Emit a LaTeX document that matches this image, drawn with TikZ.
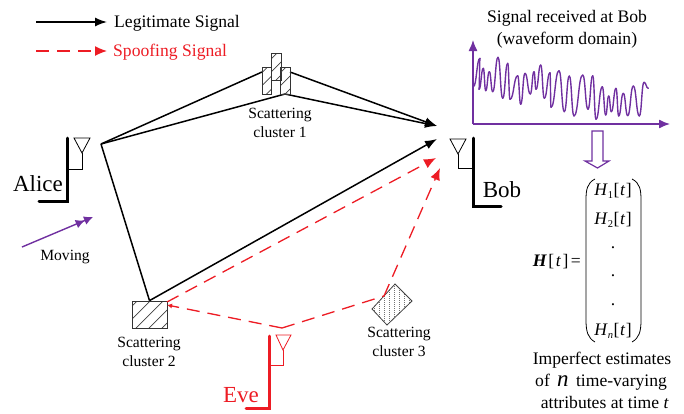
\documentclass[tikz,border=0pt]{standalone}
\usepackage{fontspec}
\setmainfont{Liberation Serif}
\usetikzlibrary{arrows.meta}
\definecolor{pur}{HTML}{7030A0}
\definecolor{spoof}{HTML}{ED1C24}
\newcommand{\fsz}[1]{\fontsize{#1}{#1}\selectfont}
\newcommand{\Hs}[1]{\textit{H}\raisebox{-3pt}{\fsz{10.5}#1}\kern0.5pt[\kern0.5pt\textit{t}\kern0.5pt]}
\tikzset{
  legit/.style={black,line width=1.5pt,-{Latex[length=12pt,width=9pt]}},
  legitplain/.style={black,line width=1.5pt},
  spoofline/.style={spoof,line width=1.3pt,dash pattern=on 13pt off 8pt},
  spoofarrow/.style={spoofline,-{Latex[length=12pt,width=10pt]}},
  spoofsmall/.style={spoofline,-{Latex[length=5pt,width=5pt]}},
  mast/.style={line width=3pt,line cap=round},
  feed/.style={line width=0.8pt},
  lab/.style={anchor=base,inner sep=0pt},
  big/.style={lab,font=\fsz{23}},
  mid/.style={lab,font=\fsz{17.6}},
  small/.style={lab,font=\fsz{15.6}},
  hatchbox/.style={draw=black!60!gray,line width=0.8pt,inner sep=0pt,path picture={
    \foreach \d in {-65,-52,...,65}
      \draw[black!75,line width=0.7pt] ([xshift=\d pt]path picture bounding box.center)++(-30pt,-30pt)--++(60pt,60pt);}},
  purplearrow/.style={pur,line width=1.3pt,-{Latex[length=11pt,width=9pt]}},
  wave/.style={pur,line width=1.4pt,line cap=round}
}
\begin{document}
\begin{tikzpicture}[x=1pt,y=-1pt]
\useasboundingbox (0,0) rectangle (684,413);
% named points
\coordinate (aliceTip) at (101,144);
\coordinate (bobA) at (437,126);
\coordinate (bobB) at (437,139);
\coordinate (bobC) at (436,158);
\coordinate (bobD) at (440,168);
\coordinate (c1L) at (262,72);
\coordinate (c1R) at (290,72);
\coordinate (c1B) at (285,94);
\coordinate (eveTip) at (282,328);
\coordinate (c3in) at (384,296);
\coordinate (c2E1) at (167,305);
\coordinate (c2E2) at (167,302);
% legend
\coordinate (lg1) at (36,22); \coordinate (lg2) at (107,22);
\coordinate (ls1) at (36,51); \coordinate (ls2) at (107,51);
\draw[legit] (lg1) -- (lg2);
\draw[spoofarrow] (ls1) -- (ls2);
\node[mid,anchor=base west] (tlegit) at (114,27) {Legitimate Signal};
\node[mid,anchor=base west,text=spoof] (tspoof) at (113,56) {Spoofing Signal};
% black links (below the clusters)
\node[hatchbox,minimum width=35pt,minimum height=27pt] (c2) at (149.5,314.5) {};
\draw[legitplain] (aliceTip) -- (c1L);
\draw[legitplain] (aliceTip) -- (c1B);
\draw[legit] (c1R) -- (bobA);
\draw[legit] (c1B) -- (bobA);
\draw[legitplain] (aliceTip) -- (c2.north);
\draw[legit] (c2.north) -- (bobB);
% cluster 1
\node[hatchbox,minimum width=9.5pt,minimum height=27pt] (c1m) at (276.5,66.5) {};
\node[hatchbox,minimum width=9.5pt,minimum height=27pt] (c1a) at (267,80.5) {};
\node[hatchbox,minimum width=9.5pt,minimum height=27pt] (c1c) at (285.5,80.5) {};
\node[small] (t1a) at (280,118) {Scattering};
\node[small] (t1b) at (280,137) {cluster 1};
% cluster 2 text
\node[small] (t2a) at (149,347) {Scattering};
\node[small] (t2b) at (149,366) {cluster 2};
% cluster 3
\coordinate (d1) at (395,284); \coordinate (d2) at (412,301);
\coordinate (d3) at (387,325); \coordinate (d4) at (372,309);
\begin{scope}
\clip (d1)--(d2)--(d3)--(d4)--cycle;
\foreach \x in {374,379,...,412}
  \draw[black!55,line width=1pt,dash pattern=on 1pt off 1pt] (\x,280)--(\x,330);
\end{scope}
\draw[black!75,line width=0.8pt] (d1)--(d2)--(d3)--(d4)--cycle;
\node[small] (t3a) at (399,337) {Scattering};
\node[small] (t3b) at (399,356) {cluster 3};
% red links
\draw[spoofsmall] (eveTip) -- (c2E1);
\draw[spoofarrow] (c2E2) -- (bobC);
\draw[spoofline] (eveTip) -- (c3in);
\draw[spoofarrow] (c3in) -- (bobD);
% Alice
\draw[mast] (67,138) -- (67,201) -- (39,201);
\draw[feed] (68,169) -- (82,169) -- (82,153);
\draw[feed,fill=white] (74,138) -- (90,138) -- (82,153) -- cycle;
\node[big] (alice) at (38,191) {Alice};
% Bob
\draw[mast] (473,138) -- (473,206) -- (501,206);
\draw[feed] (472,168) -- (458,168) -- (458,154);
\draw[feed,fill=white] (450,139) -- (466,139) -- (458,154) -- cycle;
\node[big] (bob) at (502,197) {Bob};
% Eve
\draw[spoof,mast] (269,336) -- (269,408) -- (246,408);
\draw[spoof,feed] (269,365) -- (283,365) -- (283,350);
\draw[spoof,feed,fill=white] (276,335) -- (291,335) -- (283,350) -- cycle;
\node[big,text=spoof] (eve) at (241,402) {Eve};
% moving
\coordinate (mv1) at (22,247); \coordinate (mv2) at (93,217);
\draw[pur,line width=1.4pt,-{Latex[length=9pt,width=9pt]Latex[length=9pt,width=9pt]}] (mv1) -- (mv2);
\node[small] (tmove) at (65,260) {Moving};
% plot
\node[mid] (tsig) at (567,22) {Signal received at Bob};
\node[mid] (tdom) at (567,44) {(waveform domain)};
\coordinate (ax0) at (473,124); \coordinate (axy) at (473,40); \coordinate (axx) at (670,124);
\draw[purplearrow] (ax0) -- (axy);
\draw[purplearrow] (ax0) -- (axx);
\foreach \x/\y [remember=\x as \lx (initially 473.3), remember=\y as \ly (initially 86.7)] in {480/58.3,479/89.3,483.3/68.3,485.7/90.7,489.3/71.7,492.7/91.7,498/57.3,502.7/98.3,507.7/63.3,510/99.3,517.7/75.7,520.7/104.3,525/73.3,530.3/94,534/71.7,536/89.3,540.7/65,544.3/98.3,550/72.7,551/107.3,559/70.7,564.3/111.7,569.3/76,574/116,582.7/75,588/109.3,592.7/75.7,596/119.3,602.3/86.7,605.7/115,608.7/96,611.3/111.7,616/88.3,618.7/116,623.3/93.3,627.7/115.7,633.3/86,639.3/116,644/82.3,648.3/88.3}
  \draw[wave] (\lx,\ly) .. controls ({(\lx+\x)/2},\ly) and ({(\lx+\x)/2},\y) .. (\x,\y);
% hollow arrow
\draw[pur,line width=1.2pt,fill=white] (592,131)--(603,131)--(603,161)--(609,161)--(597.5,168)--(585,161)--(592,161)--cycle;
% matrix
\draw[black,line width=0.8pt] (595,179) .. controls (587,183) and (586,190) .. (586,200) -- (586,320) .. controls (586,332) and (588,338) .. (595,342);
\draw[black,line width=0.8pt] (632,179) .. controls (640,183) and (641,190) .. (641,200) -- (641,320) .. controls (641,332) and (639,338) .. (632,342);
\node[mid] (h1) at (613,195) {\Hs{1}};
\node[mid] (h2) at (613,224) {\Hs{2}};
\node[mid] (dt1) at (613,248) {.};
\node[mid] (dt2) at (613,276) {.};
\node[mid] (dt3) at (613,305) {.};
\node[mid] (hn) at (613,335) {\Hs{\textit{n}}};
\node[mid,anchor=base east] (heq) at (581,266) {\textbf{\textit{H}}\kern1.5pt[\kern1.5pt\textit{t}\kern1.5pt]\kern2.5pt=};
\node[mid] (b1) at (602,364) {Imperfect estimates};
\node[mid,anchor=base west] (b2) at (535,386) {of \,{\fsz{23}\textit{n}}\, time-varying};
\node[mid,anchor=base east] (b3) at (669,408) {attributes at time \textit{t}};
\end{tikzpicture}
\end{document}
